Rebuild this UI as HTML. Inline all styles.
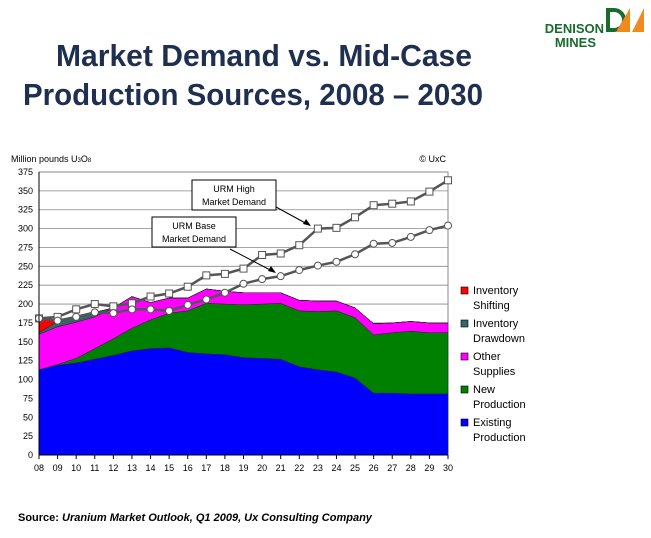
<!DOCTYPE html>
<html><head><meta charset="utf-8"><style>
body{margin:0;background:#fff;}
svg{display:block;font-family:"Liberation Sans",Arial,sans-serif;}
</style></head><body>
<svg id="c" width="651" height="538">
<text x="264" y="66" text-anchor="middle" font-size="31" font-weight="bold" fill="#1f2f4f" textLength="416" lengthAdjust="spacingAndGlyphs">Market Demand vs. Mid-Case</text>
<text x="253" y="105" text-anchor="middle" font-size="31" font-weight="bold" fill="#1f2f4f" textLength="460" lengthAdjust="spacingAndGlyphs">Production Sources, 2008 – 2030</text>
<g>
<text x="604" y="33" text-anchor="end" font-size="13" font-weight="bold" fill="#1a6b2e">DENISON</text>
<text x="596" y="47" text-anchor="end" font-size="13" font-weight="bold" fill="#1a6b2e">MINES</text>
<path d="M606,8 h8 a12,12 0 0 1 0,24 h-8z M610,12 v16 h4 a8,8 0 0 0 0,-16z" fill="#1a6b2e" fill-rule="evenodd"/>
<polygon points="616,32 630,8 630,32" fill="#f08a1c"/>
<polygon points="632,32 644,8 644,32" fill="#f08a1c"/>
</g>
<text x="11" y="162" font-size="9" fill="#000">Million pounds U<tspan font-size="6">3</tspan>O<tspan font-size="6">8</tspan></text>
<text x="446" y="162" text-anchor="end" font-size="9" fill="#000">© UxC</text>
<g id="grid"></g><g id="areas"></g><g id="lines"></g><g id="axes"></g>
<g>
<rect x="192" y="180" width="84" height="30" fill="#fff" stroke="#000"/>
<text x="234" y="192" text-anchor="middle" font-size="9">URM High</text>
<text x="234" y="205" text-anchor="middle" font-size="9">Market Demand</text>
<line x1="276" y1="207" x2="309" y2="225" stroke="#000"/>
<polygon points="311,226 303,224 306,219" fill="#000"/>
</g>
<g>
<rect x="152" y="217" width="84" height="30" fill="#fff" stroke="#000"/>
<text x="194" y="229" text-anchor="middle" font-size="9">URM Base</text>
<text x="194" y="242" text-anchor="middle" font-size="9">Market Demand</text>
<line x1="230" y1="249" x2="274" y2="272" stroke="#000"/>
<polygon points="276,273 268,271 271,266" fill="#000"/>
</g>
<g id="legend"></g>
<text x="18" y="521" font-size="11" font-weight="bold">Source: <tspan font-style="italic">Uranium Market Outlook, Q1 2009, Ux Consulting Company</tspan></text>
</svg>
<script>
const years=["08","09","10","11","12","13","14","15","16","17","18","19","20","21","22","23","24","25","26","27","28","29","30"];
const existing=[113,119,122,127,132,138,141,142,136,134,133,129,128,127,117,113,110,102,82,82,81,81,81];
const newProd=[0,1,6,14,22,30,38,46,55,67,67,70,72,74,74,77,81,80,77,80,83,81,81];
const otherSup=[47,50,48,42,41,42,23,20,17,19,17,16,15,14,14,14,13,13,15,13,13,13,13];
const drawdown=[2,7,7,6,0,0,0,0,0,0,0,0,0,0,0,0,0,0,0,0,0,0,0];
const shifting=[18,0,0,0,0,0,0,0,0,0,0,0,0,0,0,0,0,0,0,0,0,0,0];
const highDemand=[181,183,193,200,197,201,210,214,223,238,240,247,265,267,278,300,301,315,331,333,336,349,364];
const baseDemand=[181,178,183,189,188,193,193,191,199,206,215,227,233,237,245,251,256,266,280,281,289,298,304];
const yTicks=[0,25,50,75,100,125,150,175,200,225,250,275,300,325,350,375];
const NS="http://www.w3.org/2000/svg";
const X0=39,X1=448,Y0=455,Y1=172;
const xs=i=>X0+(X1-X0)*i/(years.length-1);
const ys=v=>Y0-(Y0-Y1)*v/375;
function mk(t,a,p){const e=document.createElementNS(NS,t);for(const k in a)e.setAttribute(k,a[k]);p.appendChild(e);return e;}
const grid=document.getElementById('grid'),axes=document.getElementById('axes');
mk('rect',{x:X0,y:Y1,width:X1-X0,height:Y0-Y1,fill:'#fff',stroke:'#888'},grid);
yTicks.forEach(v=>{
 const l=mk('line',{x1:X0,x2:X1,y1:ys(v),y2:ys(v),stroke:'#888','stroke-width':0.8},grid);
 
 
 const t=mk('text',{x:X0-6,y:ys(v)+3,'text-anchor':'end','font-size':9},axes);t.textContent=v;
 
 
});
years.forEach((y,i)=>{
 mk('line',{x1:xs(i),x2:xs(i),y1:Y0,y2:Y0+4,stroke:'#000'},axes);
 const t=mk('text',{x:xs(i),y:Y0+16,'text-anchor':'middle','font-size':9},axes);t.textContent=y;
 
 
});
mk('line',{x1:X0,x2:X0,y1:Y1,y2:Y0,stroke:'#000'},axes);
mk('line',{x1:X0,x2:X1,y1:Y0,y2:Y0,stroke:'#000'},axes);
const series=[["existing-production",existing,"#0000ff"],["new-production",newProd,"#008000"],["other-supplies",otherSup,"#ff00ff"],["inventory-drawdown",drawdown,"#336666"],["inventory-shifting",shifting,"#ff0000"]];
const areas=document.getElementById('areas');
let base=years.map(()=>0);
series.forEach(([n,d,c])=>{
 const top=base.map((b,i)=>b+d[i]);
 let p=top.map((v,i)=>(i?'L':'M')+xs(i)+','+ys(v)).join('');
 for(let i=years.length-1;i>=0;i--)p+='L'+xs(i)+','+ys(base[i]);
 const e=mk('path',{d:p+'Z',fill:c,stroke:'#222','stroke-width':0.5},areas);
 
 
 base=top;
});
const lines=document.getElementById('lines');
[["high-demand",highDemand,'sq'],["base-demand",baseDemand,'ci']].forEach(([n,d,m])=>{
 const e=mk('polyline',{points:d.map((v,i)=>xs(i)+','+ys(v)).join(' '),fill:'none',stroke:'#555','stroke-width':2.5},lines);
 
 
 d.forEach((v,i)=>{
  const k=m==='sq'?mk('rect',{x:xs(i)-3.5,y:ys(v)-3.5,width:7,height:7,fill:'#fff',stroke:'#555'},lines):mk('circle',{cx:xs(i),cy:ys(v),r:3.5,fill:'#fff',stroke:'#555'},lines);
  
  
 });
});
const legend=document.getElementById('legend');
const leg=[["Inventory","Shifting","#ff0000"],["Inventory","Drawdown","#336666"],["Other","Supplies","#ff00ff"],["New","Production","#008000"],["Existing","Production","#0000ff"]];
leg.forEach(([a,b,c],i)=>{
 const y=294+i*33;
 const g=mk('g',{},legend);
 
 
 mk('rect',{x:461,y:y-7,width:7,height:7,fill:c,stroke:'#000','stroke-width':0.6},g);
 const t1=mk('text',{x:473,y:y,'font-size':11},g);t1.textContent=a;
 const t2=mk('text',{x:473,y:y+15,'font-size':11},g);t2.textContent=b;
});
</script>
</body></html>
